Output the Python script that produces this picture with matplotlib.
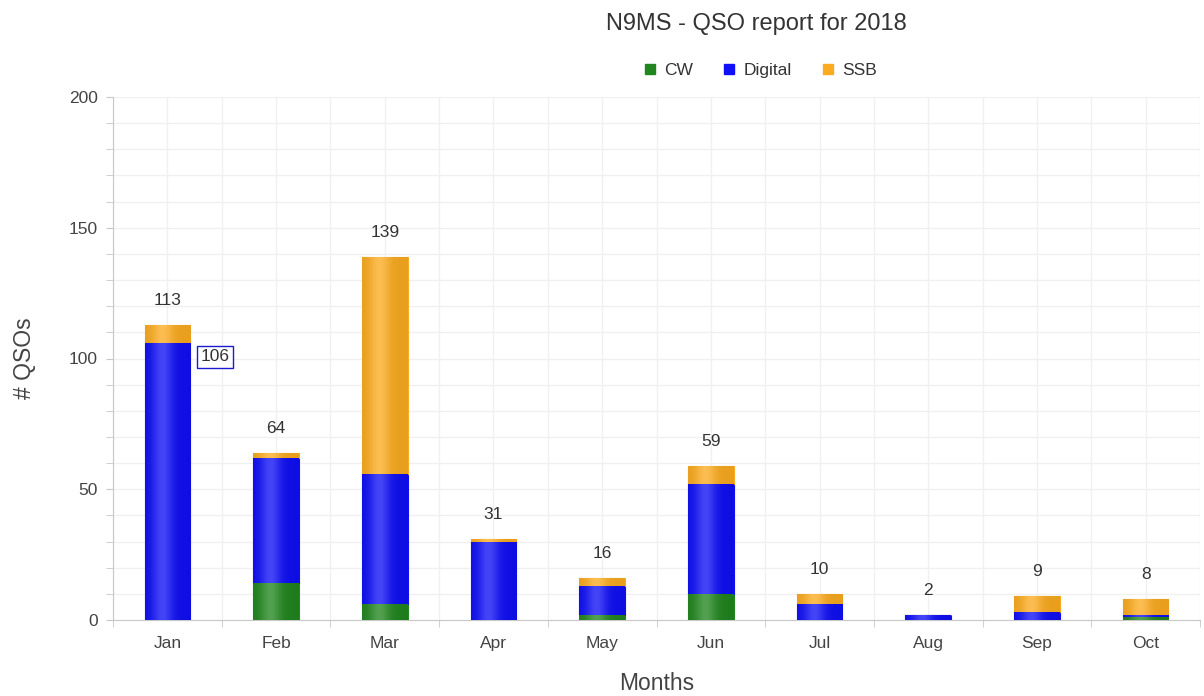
import numpy as np
import matplotlib.pyplot as plt
from matplotlib.colors import to_rgb
from matplotlib.lines import Line2D
from matplotlib.ticker import MultipleLocator

plt.rcParams['font.family'] = ['Liberation Sans', 'DejaVu Sans']

months = ["Jan", "Feb", "Mar", "Apr", "May", "Jun", "Jul", "Aug", "Sep", "Oct"]
cw = [0, 14, 6, 0, 2, 10, 0, 0, 0, 1]
digital = [106, 48, 50, 30, 11, 42, 6, 2, 3, 1]
ssb = [7, 2, 83, 1, 3, 7, 4, 0, 6, 6]

series = [("CW", cw, "#22861f"), ("Digital", digital, "#1010f5"), ("SSB", ssb, "#fbab20")]


def shade_bars(ax, bars, color):
    # cylinder-ish shading: lighter stripe left of centre, darker edges
    base = np.array(to_rgb(color))
    u = np.linspace(0, 1, 64)
    light = np.exp(-((u - 0.38) / 0.22) ** 2)
    rows = base * (0.93 + 0.07 * light[:, None]) + (1 - base) * 0.22 * light[:, None]
    img = np.clip(rows, 0, 1)[None, :, :]
    for p in bars.patches:
        if p.get_height() <= 0:
            continue
        x0, y0 = p.get_x(), p.get_y()
        im = ax.imshow(img, extent=(x0, x0 + p.get_width(), y0, y0 + p.get_height()),
                       aspect="auto", interpolation="bilinear", zorder=3)
        im.set_clip_path(p)


fig = plt.figure(figsize=(12.04, 6.96), dpi=100)
ax = fig.add_axes([113 / 1204, 1 - 620 / 696, 1087 / 1204, 523 / 696])

x = np.arange(len(months))
width = 0.42
bottom = np.zeros(len(months))
for name, vals, color in series:
    vals = np.array(vals)
    bars = ax.bar(x, vals, width, bottom=bottom, color=color,
                  edgecolor=color, linewidth=0.8, zorder=2)
    shade_bars(ax, bars, color)
    bottom += vals

totals = bottom
for xi, t in zip(x, totals):
    ax.annotate(f"{int(t)}", (xi, t), xytext=(0, 17), textcoords="offset pixels",
                ha="center", va="bottom", fontsize=12.5, color="#333333")

# highlighted digital label on January
ax.annotate(f"{digital[0]}", (x[0] + width / 2, cw[0] + digital[0]), xytext=(10, -14),
            textcoords="offset pixels", ha="left", va="center", fontsize=12.5, color="#333333",
            bbox=dict(boxstyle="square,pad=0.2", fc="white", ec="#1a1ad0", lw=1.0), zorder=5)

ax.set_xlim(-0.5, len(months) - 0.5)
ax.set_ylim(0, 200)
ax.set_xticks(x)
ax.set_xticklabels(months)
ax.xaxis.set_minor_locator(MultipleLocator(0.5))
ax.yaxis.set_major_locator(MultipleLocator(50))
ax.yaxis.set_minor_locator(MultipleLocator(10))

ax.grid(which="both", color="#f0f0f0", linewidth=1.0, zorder=0)
ax.set_axisbelow(True)

for side in ["top", "right"]:
    ax.spines[side].set_visible(False)
ax.spines["left"].set_color("#c8c8c8")
ax.spines["bottom"].set_color("#c8c8c8")

ax.tick_params(axis="x", which="major", length=0, pad=11.5, labelsize=12.5, labelcolor="#444444")
ax.tick_params(axis="x", which="minor", length=5, color="#c8c8c8")
ax.tick_params(axis="y", which="both", length=5, color="#c8c8c8", labelsize=12.5,
               labelcolor="#444444", pad=6)

ax.set_xlabel("Months", fontsize=16.5, color="#444444")
ax.xaxis.set_label_coords(0.5, -52 / 523)
ax.set_ylabel("# QSOs", fontsize=16.5, color="#444444")
ax.yaxis.set_label_coords(-77 / 1087, 0.5)

fig.text(756 / 1204, 1 - 24 / 696, "N9MS - QSO report for 2018", ha="center", va="center",
         fontsize=17, color="#333333")

handles = [Line2D([], [], marker="s", linestyle="none", markersize=7,
                  color=color, label=name) for name, _, color in series]
fig.legend(handles=handles, loc="center", bbox_to_anchor=(759 / 1204, 1 - 70 / 696), ncol=3,
           frameon=False, fontsize=12.5, handletextpad=0.3, columnspacing=1.6,
           labelcolor="#333333", handlelength=1.0)

fig.savefig("out.png", dpi=100)
